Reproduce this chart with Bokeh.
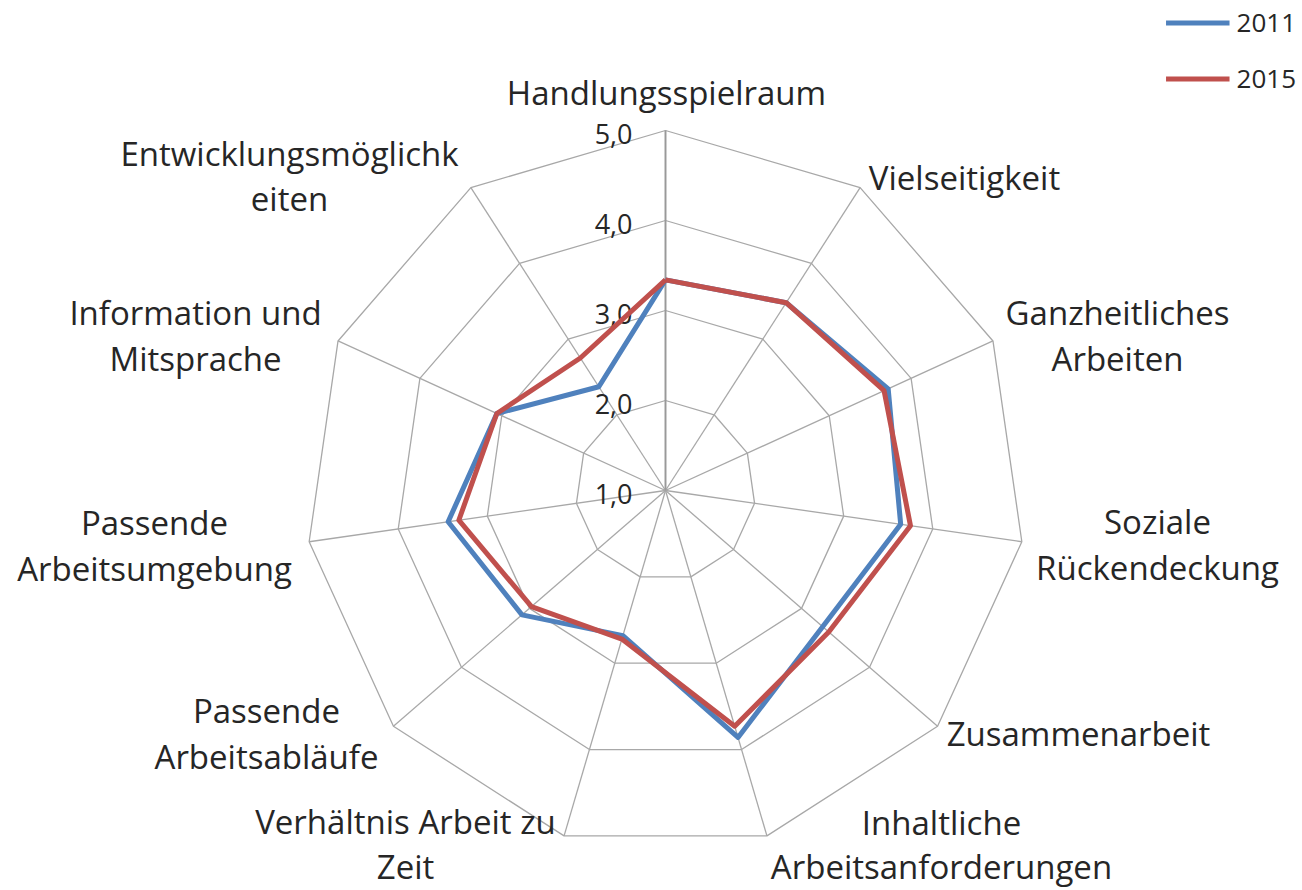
import math
from bokeh.plotting import figure
from bokeh.models import Range1d, Legend, LegendItem, ColumnDataSource
from bokeh.core.properties import value
from bokeh.embed import file_html
from bokeh.resources import INLINE

# ---------------- data ----------------
categories = [
    "Handlungsspielraum", "Vielseitigkeit", "Ganzheitliches Arbeiten",
    "Soziale Rückendeckung", "Zusammenarbeit", "Inhaltliche Arbeitsanforderungen",
    "Verhältnis Arbeit zu Zeit", "Passende Arbeitsabläufe", "Passende Arbeitsumgebung",
    "Information und Mitsprache", "Entwicklungsmöglichkeiten",
]
category_lines = [
    ["Handlungsspielraum"], ["Vielseitigkeit"], ["Ganzheitliches", "Arbeiten"],
    ["Soziale", "Rückendeckung"], ["Zusammenarbeit"], ["Inhaltliche", "Arbeitsanforderungen"],
    ["Verhältnis Arbeit zu", "Zeit"], ["Passende", "Arbeitsabläufe"], ["Passende", "Arbeitsumgebung"],
    ["Information und", "Mitsprache"], ["Entwicklungsmöglichk", "eiten"],
]
values_2011 = [3.34, 3.48, 3.72, 3.64, 3.31, 3.86, 2.68, 3.11, 3.44, 3.06, 2.37]
values_2015 = [3.34, 3.48, 3.67, 3.75, 3.40, 3.73, 2.72, 2.97, 3.32, 3.06, 2.75]
tick_values = [1.0, 2.0, 3.0, 4.0, 5.0]
tick_labels = ["1,0", "2,0", "3,0", "4,0", "5,0"]
series_names = ["2011", "2015"]

# ---------------- layout / style ----------------
W, H = 1300, 890
CX, CY = 665, 490          # centre of radar in page pixels
UNIT = 90.0                # pixels per 1.0
VMIN, VMAX = 1.0, 5.0
FONT = "Open Sans"
TXT = "#262626"
GRID = "#a8a8a8"
COLORS = ["#4F81BD", "#C0504D"]

# label centres (page px) for each line of each category
label_centres = [
    [(666, 92)],
    [(964, 177)],
    [(1117, 312), (1117, 358)],
    [(1157, 521), (1157, 567)],
    [(1078, 733)],
    [(941, 822), (941, 866)],
    [(405, 821), (405, 866)],
    [(266, 710), (266, 756)],
    [(154, 522), (154, 568)],
    [(195, 312), (195, 358)],
    [(289, 153), (289, 198)],
]

n = len(categories)
angles = [math.pi / 2 - 2 * math.pi * i / n for i in range(n)]


def radius(v):
    return (v - VMIN) * UNIT


def polar(vals):
    xs = [radius(v) * math.cos(a) for v, a in zip(vals, angles)]
    ys = [radius(v) * math.sin(a) for v, a in zip(vals, angles)]
    return xs + xs[:1], ys + ys[:1]


p = figure(width=W, height=H,
           x_range=Range1d(-CX, W - CX), y_range=Range1d(CY - H, CY),
           output_backend="svg", toolbar_location=None, min_border=0,
           x_axis_location=None, y_axis_location=None)
p.grid.visible = False
p.outline_line_color = None
p.background_fill_color = "white"

# rings
ring_xs, ring_ys = [], []
for tv in tick_values[1:]:
    xs, ys = polar([tv] * n)
    ring_xs.append(xs)
    ring_ys.append(ys)
p.multi_line(ring_xs, ring_ys, line_color=GRID, line_width=1.3)

# spokes
sp_x = [[0, radius(VMAX) * math.cos(a)] for a in angles]
sp_y = [[0, radius(VMAX) * math.sin(a)] for a in angles]
p.multi_line(sp_x, sp_y, line_color=GRID, line_width=1.3)
# value axis (vertical spoke) slightly stronger
p.line([0, 0], [0, radius(VMAX)], line_color="#999999", line_width=1.8)

# tick labels
p.text(x=[632 - CX] * len(tick_values), y=[radius(v) - 3 for v in tick_values], text=tick_labels,
       text_align="right", text_baseline="middle", text_font=value(FONT),
       text_font_size="27px", text_color=TXT)

# series
renderers = []
for vals, col in zip([values_2011, values_2015], COLORS):
    xs, ys = polar(vals)
    r = p.line(xs, ys, line_color=col, line_width=5, line_join="round")
    renderers.append(r)

# category labels
lx, ly, lt = [], [], []
for lines, centres in zip(category_lines, label_centres):
    for t, (x, y) in zip(lines, centres):
        lx.append(x - CX)
        ly.append(CY - y)
        lt.append(t)
p.text(x="x", y="y", text="t", source=ColumnDataSource(dict(x=lx, y=ly, t=lt)),
       text_align="center", text_baseline="middle", text_font=value(FONT),
       text_font_size="33px", text_color=TXT)

legend = Legend(items=[LegendItem(label=s, renderers=[r]) for s, r in zip(series_names, renderers)],
                location="top_right", orientation="vertical",
                border_line_color=None, background_fill_alpha=0,
                padding=0, margin=4, spacing=20,
                glyph_width=64, glyph_height=25, label_height=25, label_standoff=7,
                label_text_font=FONT, label_text_font_size="26px", label_text_color=TXT)
p.add_layout(legend)

open("out.html", "w").write(file_html(p, INLINE))
